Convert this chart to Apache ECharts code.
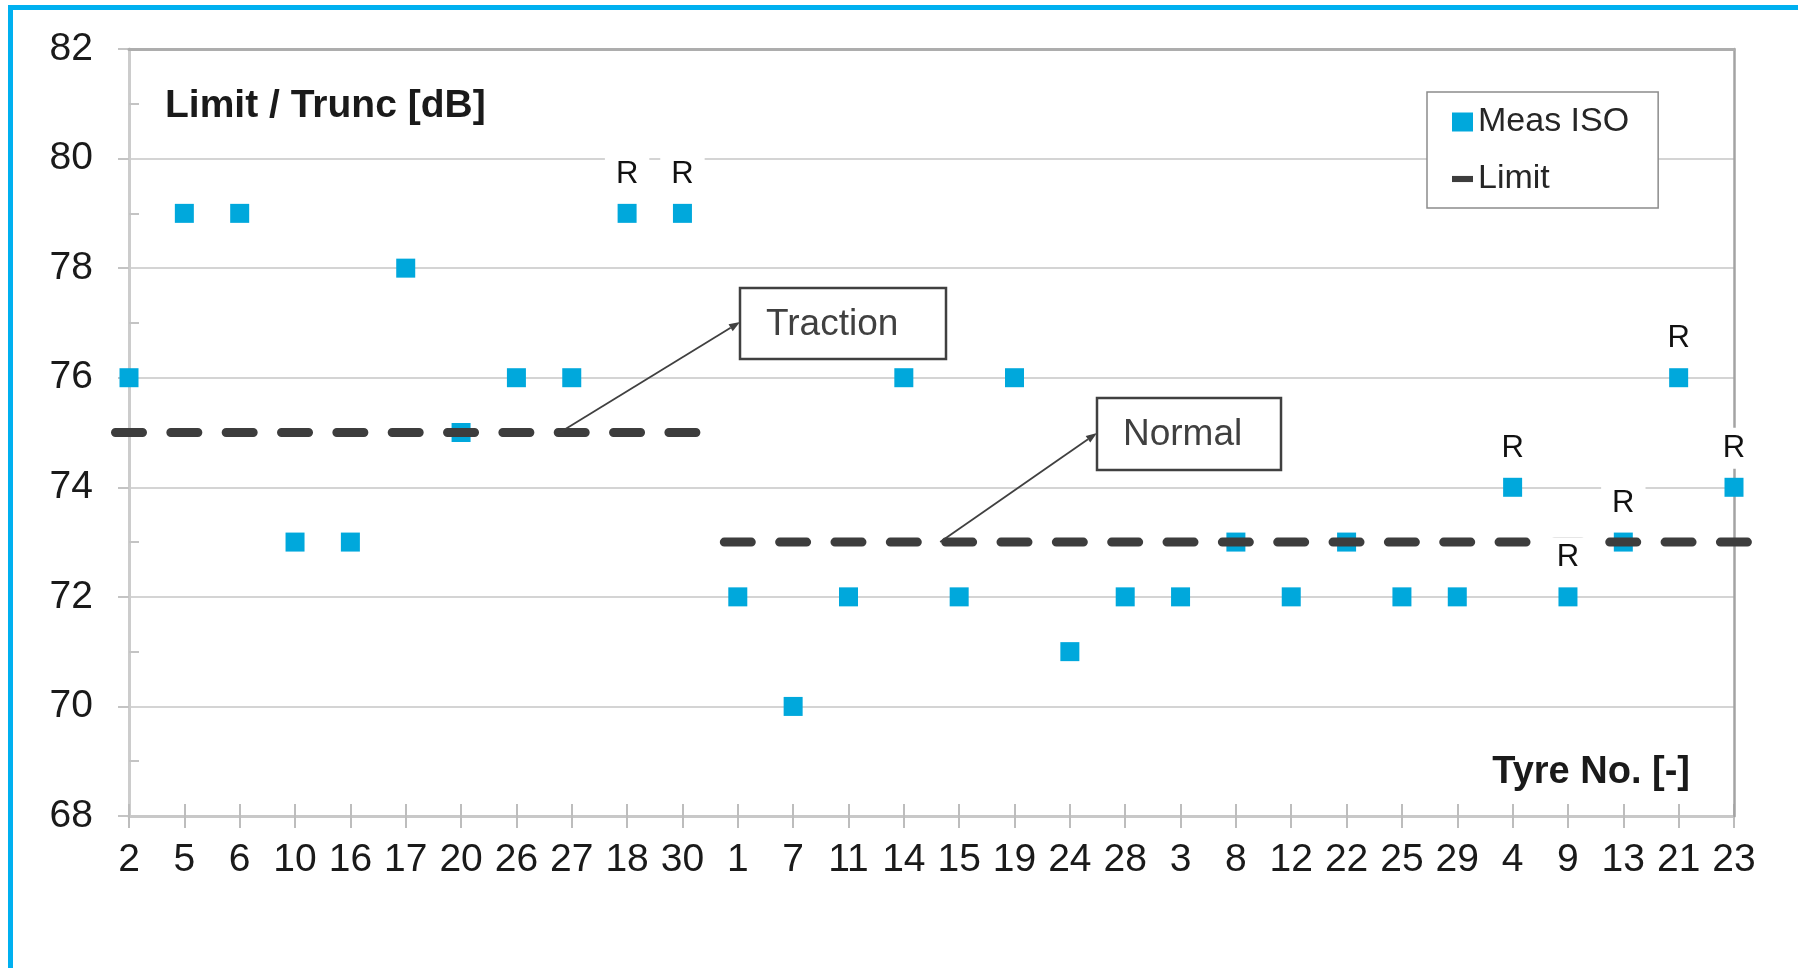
<!DOCTYPE html>
<html><head><meta charset="utf-8">
<script src="https://cdn.jsdelivr.net/npm/echarts@6/dist/echarts.min.js"></script>
<style>html,body{margin:0;padding:0;background:#fff;}#c{width:1798px;height:968px;}</style>
</head><body><div id="c"></div>
<script>
// ---- data ----
const tyreNumbers = ['2','5','6','10','16','17','20','26','27','18','30','1','7','11','14','15','19','24','28','3','8','12','22','25','29','4','9','13','21','23'];
const measIso = [76,79,79,73,73,78,75,76,76,79,79,72,70,72,76,72,76,71,72,72,73,72,73,72,72,74,72,73,76,74];
const remarks = ['','','','','','','','','','R','R','','','','','','','','','','','','','','','R','R','R','R','R'];
const limitTraction = [75,75,75,75,75,75,75,75,75,75,75,null,null,null,null,null,null,null,null,null,null,null,null,null,null,null,null,null,null,null];
const limitNormal = [null,null,null,null,null,null,null,null,null,null,null,73,73,73,73,73,73,73,73,73,73,73,73,73,73,73,73,73,73,73];
const yMin = 68, yMax = 82, yStep = 2;
const annotationTexts = ['Traction', 'Normal'];
const annotationAnchors = [['27', 75], ['15', 73]];

// limit segments (first index, last index, value) derived from the limit arrays
function segment(arr) {
  let first = -1, last = -1, val = null;
  arr.forEach((v, i) => { if (v !== null) { if (first < 0) first = i; last = i; val = v; } });
  return [first, last, val];
}
const limitSegments = [segment(limitTraction), segment(limitNormal)];

// ---- chart ----
const FONT = 'Liberation Sans, Arial, sans-serif';
const DASH = 27, PERIOD_GAP = 28.34;
const chart = echarts.init(document.getElementById('c'), null, {renderer: 'canvas'});
const option = {
  animation: false,
  backgroundColor: '#fff',
  textStyle: {fontFamily: FONT},
  title: [
    {text: 'Limit / Trunc [dB]', left: 165, top: 87, padding: 0,
     textStyle: {fontFamily: FONT, fontSize: 39, fontWeight: 'bold', color: '#1a1a1a'}},
    {text: 'Tyre No. [-]', right: 108, top: 754, padding: 0,
     textStyle: {fontFamily: FONT, fontSize: 38, fontWeight: 'bold', color: '#1a1a1a'}}
  ],
  legend: {
    left: 1427, top: 92, orient: 'vertical',
    padding: [10, 29, 9, 25], itemGap: 17, itemWidth: 21, itemHeight: 19,
    backgroundColor: '#fff', borderColor: '#8c8c8c', borderWidth: 1.5,
    selectedMode: false,
    textStyle: {fontFamily: FONT, fontSize: 34, color: '#262626', lineHeight: 40},
    data: [
      {name: 'Meas ISO', icon: 'rect', itemStyle: {opacity: 1}},
      {name: 'Limit', icon: 'path://M0,0H24V7H0Z'}
    ]
  },
  grid: {left: 129, right: 64, top: 49, bottom: 152, containLabel: false},
  xAxis: [
    {type: 'category', data: tyreNumbers, boundaryGap: false, position: 'bottom',
     axisLine: {show: true, lineStyle: {color: '#c8c8c8', width: 3}},
     axisTick: {show: true, length: 12, alignWithLabel: true, lineStyle: {color: '#bdbdbd', width: 2}},
     axisLabel: {interval: 0, margin: 25, fontSize: 39, color: '#1a1a1a', fontFamily: FONT},
     splitLine: {show: false}},
    {type: 'category', data: tyreNumbers, boundaryGap: false, position: 'bottom',
     axisLine: {show: false},
     axisTick: {show: true, inside: true, length: 12, lineStyle: {color: '#bdbdbd', width: 2}},
     axisLabel: {show: false}, splitLine: {show: false}},
    {type: 'category', data: tyreNumbers, boundaryGap: false, position: 'top', z: 1,
     axisLine: {show: true, lineStyle: {color: '#adadad', width: 3}},
     axisTick: {show: false}, axisLabel: {show: false}, splitLine: {show: false}}
  ],
  yAxis: [
    {type: 'value', min: yMin, max: yMax, interval: yStep, position: 'left',
     axisLine: {show: true, lineStyle: {color: '#cccccc', width: 3}},
     axisTick: {show: true, length: 11, lineStyle: {color: '#c4c4c4', width: 2}},
     minorTick: {show: true, splitNumber: 2, length: -10, lineStyle: {color: '#c4c4c4', width: 2}},
     axisLabel: {margin: 36, fontSize: 39, color: '#1a1a1a', fontFamily: FONT},
     splitLine: {show: true, showMaxLine: false, lineStyle: {color: '#d4d4d4', width: 2}}},
    {type: 'value', min: yMin, max: yMax, interval: yStep, position: 'right', z: 1,
     axisLine: {show: true, lineStyle: {color: '#a3a3a3', width: 2.5}},
     axisTick: {show: false}, axisLabel: {show: false}, splitLine: {show: false}}
  ],
  series: [
    {name: 'Meas ISO', type: 'scatter', xAxisIndex: 0, yAxisIndex: 0, z: 2,
     symbol: 'rect', symbolSize: 19,
     itemStyle: {color: '#00A8DC', opacity: 1},
     emphasis: {disabled: true},
     data: measIso},
    {name: 'Limit', type: 'custom', xAxisIndex: 0, yAxisIndex: 0, silent: true, z: 3,
     itemStyle: {color: '#3d3d3d'},
     encode: {x: [0, 1], y: 2},
     data: limitSegments,
     renderItem: function (params, api) {
       const a = api.coord([api.value(0), api.value(2)]);
       const b = api.coord([api.value(1), api.value(2)]);
       const ext = DASH / 2;
       return {
         type: 'line',
         shape: {x1: a[0] - ext, y1: a[1], x2: b[0] + ext, y2: b[1]},
         style: {stroke: '#3d3d3d', lineWidth: 9, lineDash: [DASH, PERIOD_GAP], lineCap: 'round', fill: null}
       };
     }},
    {name: 'remarks', type: 'scatter', xAxisIndex: 0, yAxisIndex: 0, z: 5, silent: true,
     symbol: 'rect', symbolSize: 19,
     itemStyle: {color: 'transparent', opacity: 1},
     emphasis: {disabled: true},
     data: measIso.map((v, i) => ({
       value: v,
       label: {show: remarks[i] !== '', formatter: remarks[i]}
     })),
     label: {position: 'inside', offset: [0, -39], fontSize: 31, color: '#111', fontFamily: FONT,
             backgroundColor: '#fff', padding: [9, 11, 1, 11]}}
  ]
};
chart.setOption(option);

// ---- decorations: callout boxes with arrows, outer frame ----
const boxes = [
  {x: 740, y: 288, w: 206, h: 71, textDx: 26, dx: -12, endY: 322},
  {x: 1097, y: 398, w: 184, h: 72, textDx: 26, dx: -19, endY: 433}
];
function arrow(x1, y1, x2, y2) {
  const dx = x2 - x1, dy = y2 - y1, L = Math.hypot(dx, dy), ux = dx / L, uy = dy / L;
  const bx = x2 - ux * 11, by = y2 - uy * 11, px = -uy * 4, py = ux * 4;
  return [
    {type: 'line', z: 10, silent: true, shape: {x1: x1, y1: y1, x2: bx, y2: by}, style: {stroke: '#404040', lineWidth: 1.8}},
    {type: 'polygon', z: 10, silent: true, shape: {points: [[x2, y2], [bx + px, by + py], [bx - px, by - py]]}, style: {fill: '#404040'}}
  ];
}
const graphics = [];
annotationTexts.forEach((t, i) => {
  const b = boxes[i];
  const p = chart.convertToPixel({xAxisIndex: 0, yAxisIndex: 0}, annotationAnchors[i]);
  graphics.push(...arrow(p[0] + b.dx, p[1], b.x, b.endY));
  graphics.push({type: 'rect', z: 10, silent: true, shape: {x: b.x, y: b.y, width: b.w, height: b.h},
                 style: {fill: '#fff', stroke: '#404040', lineWidth: 2.5}});
  graphics.push({type: 'text', z: 11, silent: true, x: b.x + b.textDx, y: b.y + b.h / 2 + 1,
                 style: {text: t, fontSize: 37, fontFamily: FONT, fill: '#404040', align: 'left', verticalAlign: 'middle'}});
});
graphics.push({type: 'rect', z: 100, silent: true, shape: {x: 10.5, y: 7.5, width: 3000, height: 3000},
               style: {fill: null, stroke: '#00B0F0', lineWidth: 5}});
chart.setOption({graphic: graphics});
</script>
</body></html>
